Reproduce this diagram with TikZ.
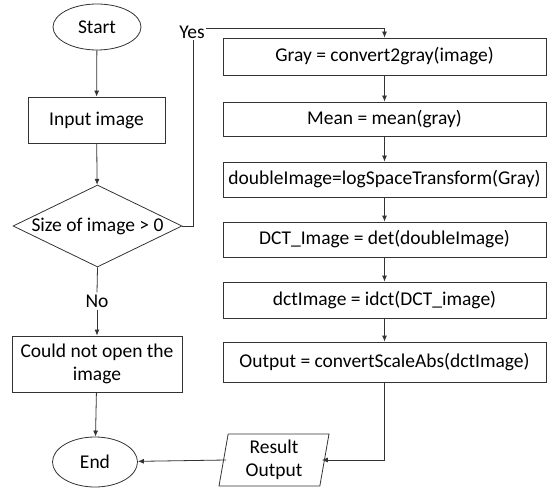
\documentclass[tikz,border=0pt]{standalone}
\usepackage{fontspec}
\setmainfont{Carlito}
\usetikzlibrary{shapes.geometric,arrows.meta}

\tikzset{
    block/.style={draw=black!80, line width=0.8pt, rectangle, minimum height=36pt, inner sep=2pt},
    term/.style={draw=black!80, line width=0.8pt, ellipse, minimum width=88pt, minimum height=46pt, inner sep=0pt},
    flow/.style={draw=black!80, line width=0.8pt, -{Latex[length=6pt,width=5pt]}}
}

\begin{document}
\begin{tikzpicture}[x=1pt, y=-1pt, font=\fontsize{19.5}{23}\selectfont]
	\useasboundingbox (0,0) rectangle (548,489);
	% left column
	\node[term] (start) at (97,27) {Start};
	\node[block, minimum width=137pt, minimum height=46pt] (input) at (96.5,120) {Input image};
	\node[draw=black!80, line width=0.8pt, diamond, aspect=2.06, minimum width=169pt, minimum height=82pt, inner sep=0pt] (check) at (97.5,226) {Size of image > 0};
	\node[block, minimum width=170pt, minimum height=56pt, align=center] (noopen) at (97,364) {Could not open the\\image};
	\node[term, minimum width=85pt, minimum height=50pt] (stop) at (95,462) {End};
	% right column
	\node[block, minimum width=323pt, minimum height=37pt] (gray) at (384.5,56.5) {Gray = convert2gray(image)};
	\node[block, minimum width=323pt, minimum height=34pt] (mean) at (384.5,119) {Mean = mean(gray)};
	\node[block, minimum width=323pt, minimum height=35pt] (dbl) at (384.5,179.5) {doubleImage=logSpaceTransform(Gray)};
	\node[block, minimum width=323pt, minimum height=35pt] (dct) at (384.5,239.5) {DCT\_Image = det(doubleImage)};
	\node[block, minimum width=323pt, minimum height=36pt] (idct) at (384.5,300) {dctImage = idct(DCT\_image)};
	\node[block, minimum width=323pt, minimum height=40pt] (outp) at (384.5,362) {Output = convertScaleAbs(dctImage)};
	\node[draw=black!80, line width=0.8pt, trapezium, trapezium left angle=77, trapezium right angle=103,
		trapezium stretches body, minimum width=110pt, minimum height=52pt, inner sep=0pt, align=center] (result) at (274,460) {Result\\Output};
	% labels
	\node[inner sep=1pt] (yes) at (192,32) {Yes};
	\node[fill=white, inner sep=2pt] (no) at (97,301) {No};
	% connectors
	\draw[flow] (start) -- (input);
	\draw[flow] (input) -- (check);
	\draw[black!80, line width=0.8pt] (check.south) -- (no.north);
	\draw[flow] (no.south) -- (noopen);
	\draw[flow] (noopen) -- (stop);
	\draw[black!80, line width=0.8pt] (check.east) -| ([xshift=1pt]yes.south);
	\draw[flow] (yes.east |- 0,28) -| (gray.north);
	\draw[flow] (gray) -- (mean);
	\draw[flow] (mean) -- (dbl);
	\draw[flow] (dbl) -- (dct);
	\draw[flow] (dct) -- (idct);
	\draw[flow] (idct) -- (outp);
	\draw[flow] (outp.south) |- ([xshift=-3pt]result.east);
	\draw[flow] ([xshift=3pt]result.west) -- (stop);
\end{tikzpicture}
\end{document}
